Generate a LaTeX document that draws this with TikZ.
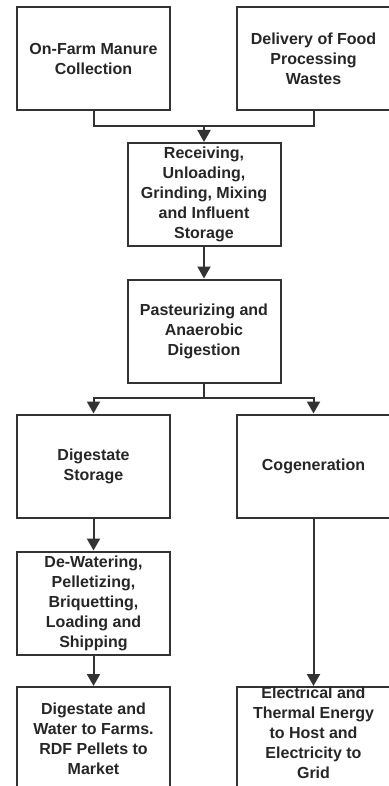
\documentclass[tikz,border=0pt]{standalone}
\usepackage{fontspec}
\setmainfont{Liberation Sans}
\usetikzlibrary{arrows.meta}

\begin{document}
\begin{tikzpicture}[x=1pt,y=-1pt]
                    \tikzstyle{stage}=[draw=black!80, line width=2pt, minimum width=153pt, minimum height=103pt, inner sep=0pt, align=center, font=\fontsize{16}{20}\selectfont\bfseries, text=black!85]
                    \tikzstyle{link}=[draw=black!80, line width=2pt]
                    \tikzstyle{flow}=[link, -{Triangle[width=13pt,length=12pt]}]
                    \useasboundingbox (0,0) rectangle (388,786);
                    \node [stage] (farm) at (93.5,59) {On-Farm Manure\\Collection};
                    \node [stage] (food) at (313.5,59) {Delivery of Food\\Processing\\Wastes};
                    \node [stage] (recv) at (204,194.5) {Receiving,\\Unloading,\\Grinding, Mixing\\and Influent\\Storage};
                    \node [stage] (past) at (204,331) {Pasteurizing and\\Anaerobic\\Digestion};
                    \node [stage] (store) at (93.5,466) {Digestate\\Storage};
                    \node [stage] (cogen) at (313.5,466) {Cogeneration};
                    \node [stage] (dewater) at (93.5,603) {De-Watering,\\Pelletizing,\\Briquetting,\\Loading and\\Shipping};
                    \node [stage] (market) at (93.5,738.5) {Digestate and\\Water to Farms.\\RDF Pellets to\\Market};
                    \node [stage, text depth=11pt] (energy) at (313.5,738.5) {Electrical and\\Thermal Energy\\to Host and\\Electricity to\\Grid};
                    \coordinate (join) at (204,126);
                    \coordinate (split) at (204,398);
                    \draw [link] (farm.south) |- (join) -| (food.south);
                    \draw [flow] (join) -- (recv.north);
                    \draw [flow] (recv.south) -- (past.north);
                    \draw [link] (past.south) -- (split);
                    \draw [flow] (split) -| (store.north);
                    \draw [flow] (split) -| (cogen.north);
                    \draw [flow] (store.south) -- (dewater.north);
                    \draw [flow] (dewater.south) -- (market.north);
                    \draw [flow] (cogen.south) -- (energy.north);
                \end{tikzpicture}
\end{document}
